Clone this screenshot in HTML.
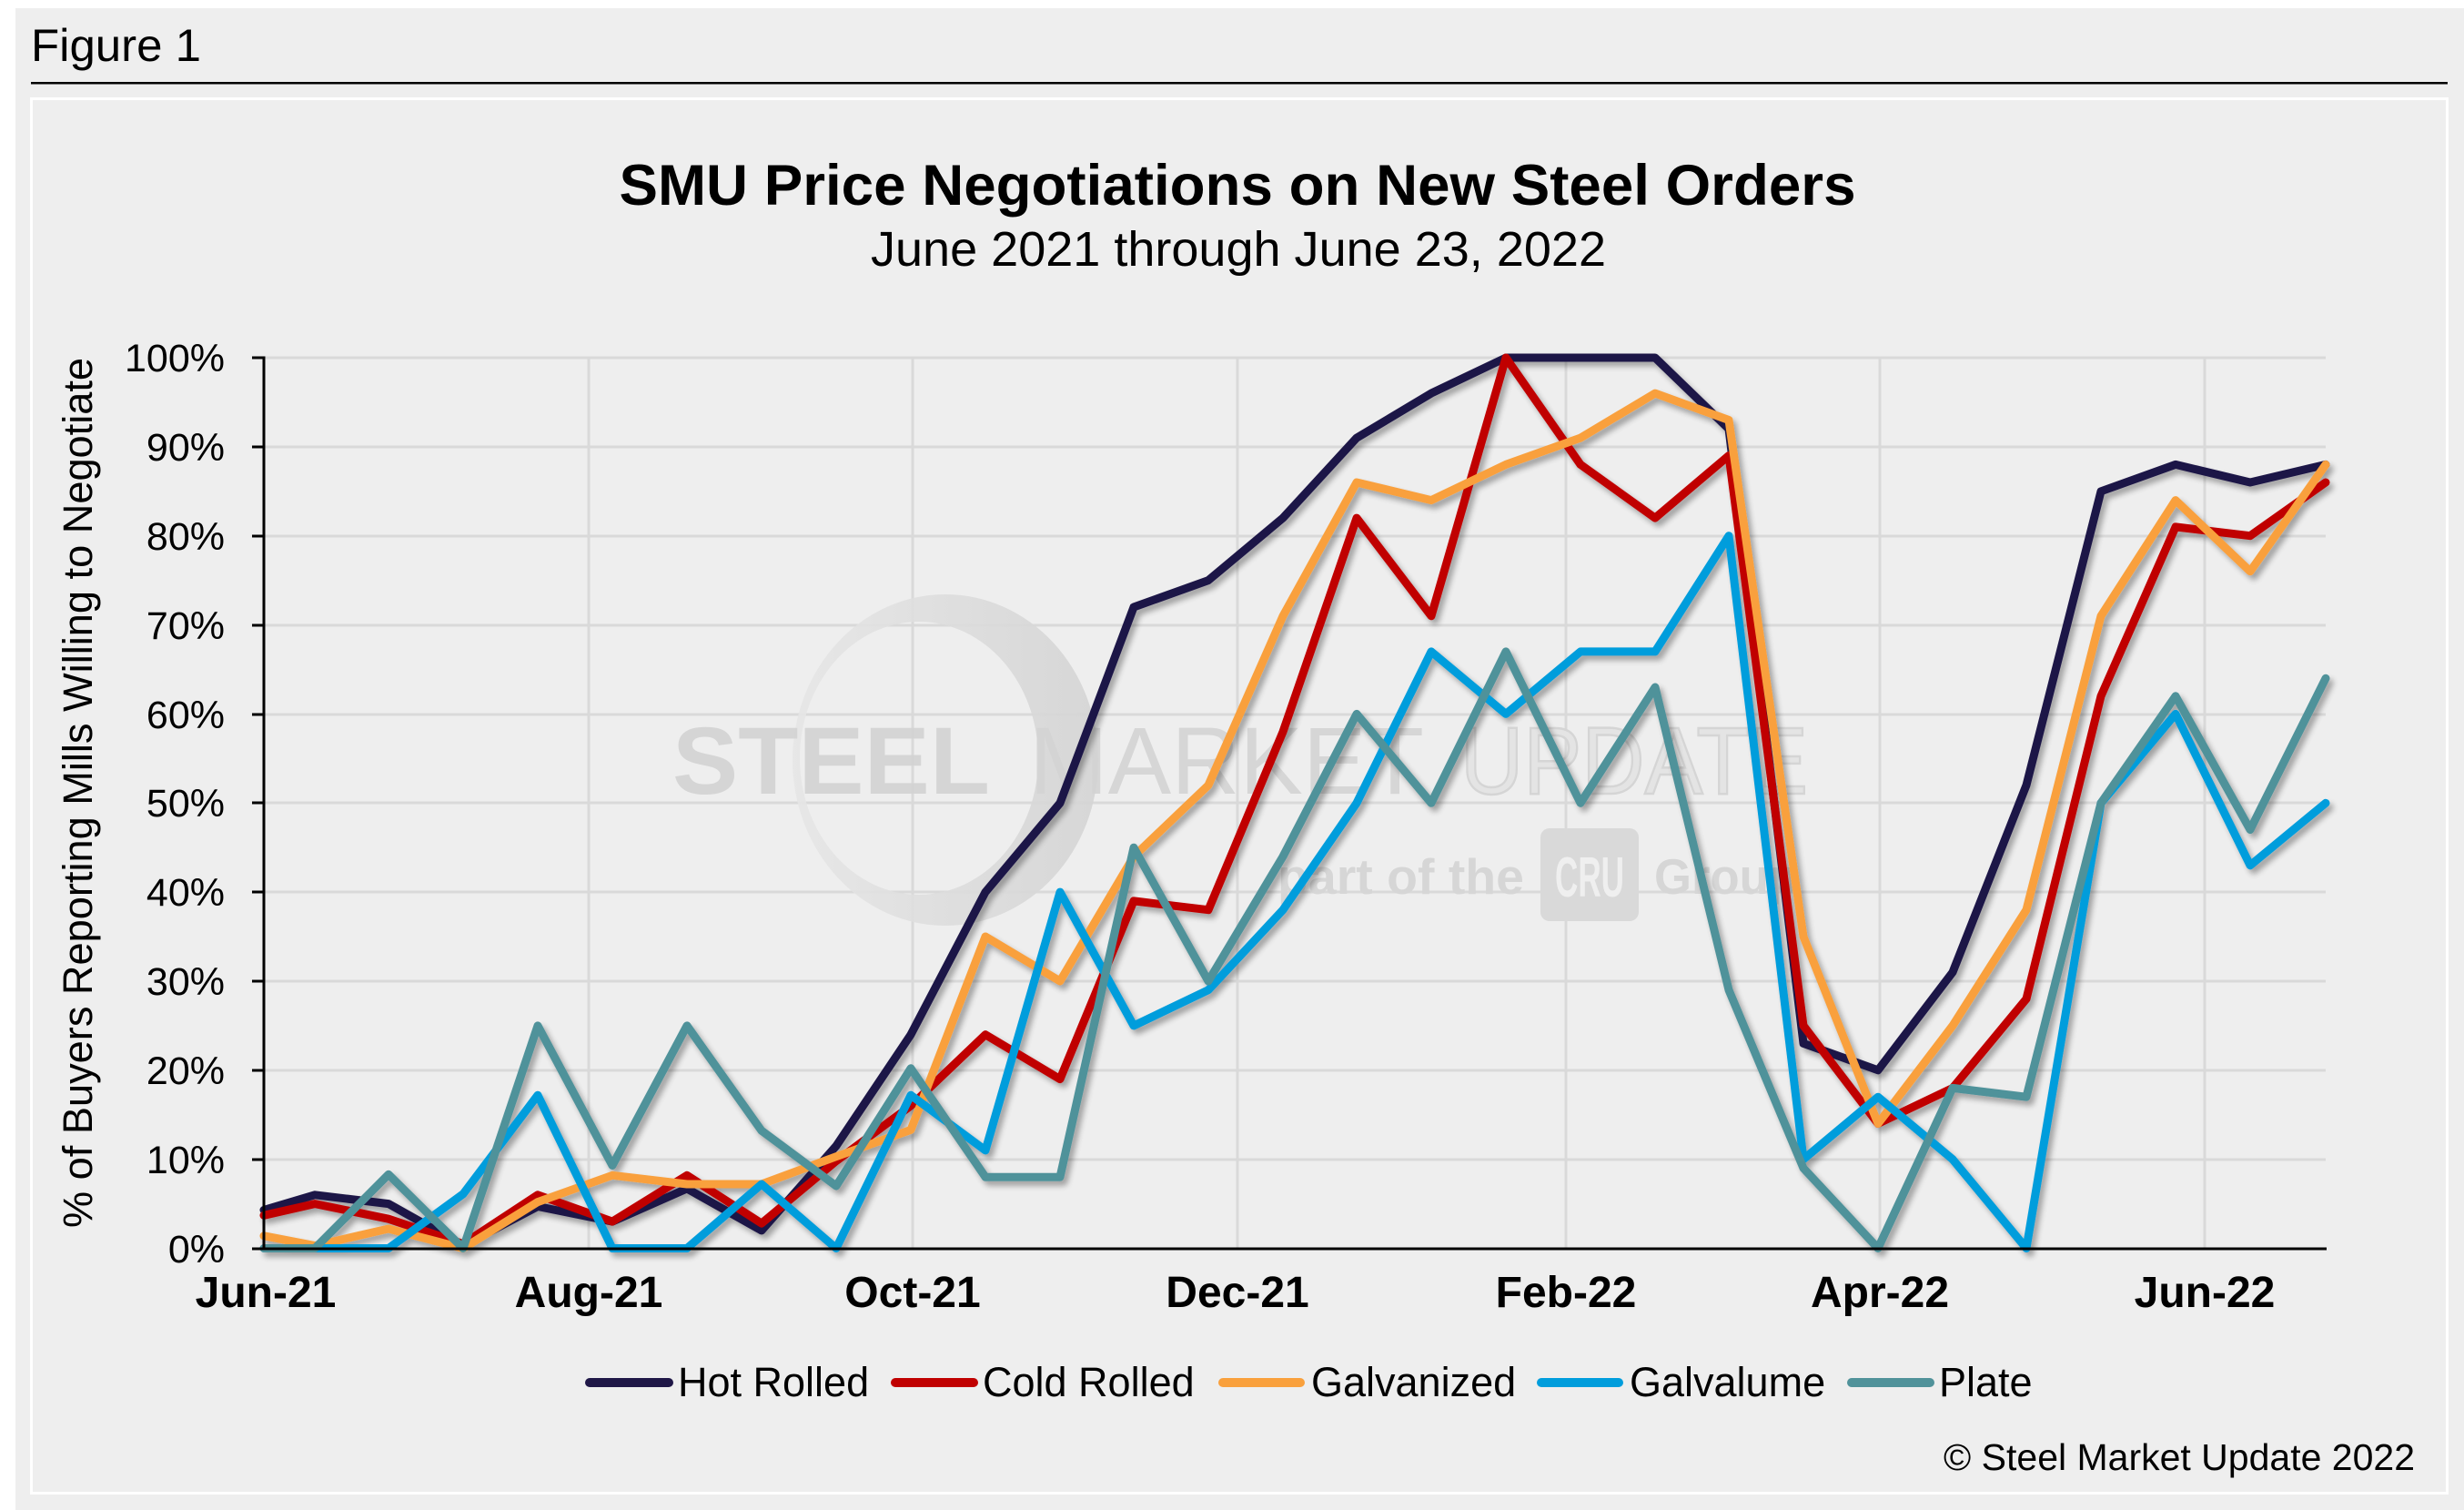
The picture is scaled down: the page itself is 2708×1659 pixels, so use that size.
<!DOCTYPE html>
<html>
<head>
<meta charset="utf-8">
<style>
html,body{margin:0;padding:0;background:#ffffff;}
body{width:2708px;height:1659px;overflow:hidden;}
svg{display:block;}
text{font-family:"Liberation Sans",Arial,sans-serif;}
</style>
</head>
<body>
<svg width="2708" height="1659" viewBox="0 0 2708 1659" xmlns="http://www.w3.org/2000/svg">
<defs>
<filter id="sh" filterUnits="userSpaceOnUse" x="250" y="350" width="2360" height="1080">
<feGaussianBlur in="SourceAlpha" stdDeviation="3.2"/>
<feOffset dx="4" dy="5" result="o"/>
<feComponentTransfer><feFuncA type="linear" slope="0.33"/></feComponentTransfer>
<feMerge><feMergeNode/><feMergeNode in="SourceGraphic"/></feMerge>
</filter>
<linearGradient id="sw" x1="0" y1="0" x2="1" y2="0">
<stop offset="0" stop-color="#e6e6e6"/>
<stop offset="1" stop-color="#d4d4d4"/>
</linearGradient>
</defs>

<!-- outer panel -->
<rect x="17" y="9" width="2691" height="1650" fill="#eeeeee"/>
<text x="34" y="67" font-size="50" textLength="187" lengthAdjust="spacingAndGlyphs" fill="#000">Figure 1</text>
<rect x="34" y="90" width="2656" height="2.5" fill="#000"/>

<!-- inner chart box -->
<rect x="34.5" y="108.5" width="2655" height="1532" fill="#eeeeee" stroke="#ffffff" stroke-width="3"/>

<!-- titles -->
<text x="1360" y="225" font-size="63.5" font-weight="bold" text-anchor="middle" textLength="1359" lengthAdjust="spacingAndGlyphs" fill="#000">SMU Price Negotiations on New Steel Orders</text>
<text x="1361" y="292" font-size="54" text-anchor="middle" textLength="808" lengthAdjust="spacingAndGlyphs" fill="#000">June 2021 through June 23, 2022</text>

<!-- gridlines -->
<g stroke="#d9d9d9" stroke-width="3">
<line x1="290" y1="393" x2="2556" y2="393"/>
<line x1="290" y1="491" x2="2556" y2="491"/>
<line x1="290" y1="589" x2="2556" y2="589"/>
<line x1="290" y1="687" x2="2556" y2="687"/>
<line x1="290" y1="785" x2="2556" y2="785"/>
<line x1="290" y1="882" x2="2556" y2="882"/>
<line x1="290" y1="980" x2="2556" y2="980"/>
<line x1="290" y1="1078" x2="2556" y2="1078"/>
<line x1="290" y1="1176" x2="2556" y2="1176"/>
<line x1="290" y1="1274" x2="2556" y2="1274"/>
<line x1="647" y1="393" x2="647" y2="1372"/>
<line x1="1003" y1="393" x2="1003" y2="1372"/>
<line x1="1360" y1="393" x2="1360" y2="1372"/>
<line x1="1721" y1="393" x2="1721" y2="1372"/>
<line x1="2066" y1="393" x2="2066" y2="1372"/>
<line x1="2423" y1="393" x2="2423" y2="1372"/>
</g>

<!-- watermark -->
<g>
<path d="M871,835 a168,182 0 1,0 336,0 a168,182 0 1,0 -336,0 Z M879,833 a131,150 0 1,0 262,0 a131,150 0 1,0 -262,0 Z" fill="url(#sw)" fill-rule="evenodd" opacity="0.9"/>
<text x="739" y="872" font-size="105" font-weight="bold" textLength="349" lengthAdjust="spacingAndGlyphs" fill="#d2d2d2" fill-opacity="0.92">STEEL</text>
<text x="1131" y="872" font-size="105" textLength="434" lengthAdjust="spacingAndGlyphs" fill="#d3d3d3" fill-opacity="0.9">MARKET</text>
<text x="1605" y="872" font-size="105" textLength="382" lengthAdjust="spacingAndGlyphs" fill="#e4e4e4" stroke="#d5d5d5" stroke-width="2.5">UPDATE</text>
<text x="1404" y="982" font-size="55" font-weight="bold" textLength="271" lengthAdjust="spacingAndGlyphs" fill="#d6d6d6">part of the</text>
<rect x="1693" y="910" width="108" height="102" rx="10" fill="#d9d9d9"/>
<text x="1747" y="985" font-size="62" font-weight="bold" text-anchor="middle" textLength="76" lengthAdjust="spacingAndGlyphs" fill="#efefef">CRU</text>
<text x="1818" y="982" font-size="55" font-weight="bold" textLength="158" lengthAdjust="spacingAndGlyphs" fill="#d6d6d6">Group</text>
</g>

<!-- series -->
<g fill="none" stroke-width="9" stroke-linejoin="round" stroke-linecap="round" filter="url(#sh)">
<polyline stroke="#1f1747" points="290,1329.4 346,1312.8 427,1322.6 509,1368.6 591,1325.5 673,1342.1 755,1305.9 837,1351.9 919,1259 1001,1136.7 1083,980.1 1165,882.3 1246,667 1328,637.6 1410,569.1 1491,481.1 1573,432.1 1655,393 1737,393 1819,393 1900,471.3 1982,1146.4 2064,1175.8 2146,1068.2 2227,862.7 2309,539.8 2391,510.4 2473,530 2556,510.4"/>
<polyline stroke="#c00000" points="290,1335.3 346,1322.6 427,1339.2 509,1366.6 591,1312.8 673,1342.1 755,1291.3 837,1344.1 919,1275.6 1001,1214.9 1083,1136.7 1165,1185.6 1246,989.9 1328,999.7 1410,804 1491,569.1 1573,676.8 1655,393 1737,510.4 1819,569.1 1900,500.6 1982,1126.9 2064,1234.5 2146,1195.4 2227,1097.5 2309,764.8 2391,578.9 2473,588.7 2556,530"/>
<polyline stroke="#f9a03c" points="290,1357.8 346,1368.6 427,1350 509,1371.5 591,1320.6 673,1291.3 755,1301 837,1301 919,1270.7 1001,1241.4 1083,1029 1165,1078 1246,941 1328,862.7 1410,676.8 1491,530 1573,549.6 1655,510.4 1737,481.1 1819,432.1 1900,461.5 1982,1029 2064,1234.5 2146,1126.9 2227,999.7 2309,676.8 2391,549.6 2473,627.8 2556,510.4"/>
<polyline stroke="#009ddc" points="290,1371.5 346,1371.5 427,1371.5 509,1311.8 591,1203.2 673,1371.5 755,1371.5 837,1301 919,1371.5 1001,1203.2 1083,1263.9 1165,980.1 1246,1126.9 1328,1087.7 1410,999.7 1491,882.3 1573,715.9 1655,784.4 1737,715.9 1819,715.9 1900,588.7 1982,1273.7 2064,1205.2 2146,1273.7 2227,1371.5 2309,882.3 2391,784.4 2473,950.8 2556,882.3"/>
<polyline stroke="#50929a" points="290,1371.5 346,1371.5 427,1290.3 509,1371.5 591,1126.9 673,1280.5 755,1126.9 837,1242.3 919,1303 1001,1173.8 1083,1293.2 1165,1293.2 1246,931.2 1328,1078 1410,941 1491,784.4 1573,882.3 1655,715.9 1737,882.3 1819,755 1900,1087.7 1982,1283.4 2064,1371.5 2146,1195.4 2227,1205.2 2309,882.3 2391,764.8 2473,911.6 2556,745.3"/>
</g>

<!-- axes -->
<g stroke="#000" stroke-width="3">
<line x1="290" y1="391.5" x2="290" y2="1373"/>
<line x1="288.5" y1="1372" x2="2557" y2="1372"/>
<line x1="277" y1="393" x2="290" y2="393"/>
<line x1="277" y1="491" x2="290" y2="491"/>
<line x1="277" y1="589" x2="290" y2="589"/>
<line x1="277" y1="687" x2="290" y2="687"/>
<line x1="277" y1="785" x2="290" y2="785"/>
<line x1="277" y1="882" x2="290" y2="882"/>
<line x1="277" y1="980" x2="290" y2="980"/>
<line x1="277" y1="1078" x2="290" y2="1078"/>
<line x1="277" y1="1176" x2="290" y2="1176"/>
<line x1="277" y1="1274" x2="290" y2="1274"/>
<line x1="277" y1="1372" x2="290" y2="1372"/>
</g>

<!-- y tick labels -->
<g font-size="43" text-anchor="end" fill="#000">
<text x="247" y="408">100%</text>
<text x="247" y="506">90%</text>
<text x="247" y="604">80%</text>
<text x="247" y="702">70%</text>
<text x="247" y="800">60%</text>
<text x="247" y="897">50%</text>
<text x="247" y="995">40%</text>
<text x="247" y="1093">30%</text>
<text x="247" y="1191">20%</text>
<text x="247" y="1289">10%</text>
<text x="247" y="1387">0%</text>
</g>

<!-- y axis title -->
<text transform="translate(101,871) rotate(-90)" font-size="45" text-anchor="middle" textLength="956" lengthAdjust="spacingAndGlyphs" fill="#000">% of Buyers Reporting Mills Willing to Negotiate</text>

<!-- x labels -->
<g font-size="48" font-weight="bold" text-anchor="middle" fill="#000">
<text x="292" y="1436">Jun-21</text>
<text x="647" y="1436">Aug-21</text>
<text x="1003" y="1436">Oct-21</text>
<text x="1360" y="1436">Dec-21</text>
<text x="1721" y="1436">Feb-22</text>
<text x="2066" y="1436">Apr-22</text>
<text x="2423" y="1436">Jun-22</text>
</g>

<!-- legend -->
<g stroke-width="10" stroke-linecap="round">
<line x1="648" y1="1519" x2="735" y2="1519" stroke="#1f1747"/>
<line x1="984" y1="1519" x2="1070" y2="1519" stroke="#c00000"/>
<line x1="1344" y1="1519" x2="1429" y2="1519" stroke="#f9a03c"/>
<line x1="1694" y1="1519" x2="1779" y2="1519" stroke="#009ddc"/>
<line x1="2035" y1="1519" x2="2121" y2="1519" stroke="#50929a"/>
</g>
<g font-size="45" fill="#000">
<text x="745" y="1534">Hot Rolled</text>
<text x="1080" y="1534">Cold Rolled</text>
<text x="1441" y="1534">Galvanized</text>
<text x="1791" y="1534">Galvalume</text>
<text x="2131" y="1534">Plate</text>
</g>

<!-- copyright -->
<text x="2654" y="1615" font-size="41" text-anchor="end" fill="#000">© Steel Market Update 2022</text>
</svg>
</body>
</html>
